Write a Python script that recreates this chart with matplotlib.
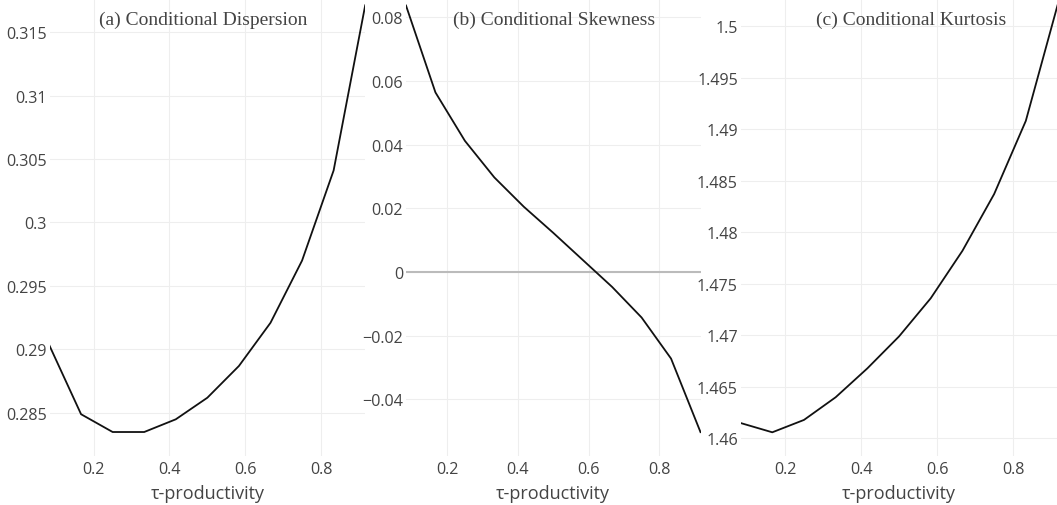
import matplotlib
matplotlib.use("Agg")
import matplotlib.pyplot as plt
import numpy as np

# tau grid: 1/12 ... 11/12
tau = [1/12, 2/12, 3/12, 4/12, 5/12, 6/12, 7/12, 8/12, 9/12, 10/12, 11/12]

dispersion = [0.2903, 0.2849, 0.2835, 0.2835, 0.2845, 0.2862, 0.2887, 0.2921, 0.2970, 0.3041, 0.3171]
skewness = [0.0837, 0.0564, 0.0412, 0.0297, 0.0205, 0.0123, 0.0038, -0.0047, -0.0143, -0.0272, -0.0503]
kurtosis = [1.4615, 1.4606, 1.4618, 1.4640, 1.4668, 1.4699, 1.4736, 1.4782, 1.4837, 1.4908, 1.5020]

titles = ["(a) Conditional Dispersion", "(b) Conditional Skewness", "(c) Conditional Kurtosis"]
x_ticks = [0.2, 0.4, 0.6, 0.8]
x_tick_labels = ["0.2", "0.4", "0.6", "0.8"]

disp_ticks = [0.285, 0.29, 0.295, 0.3, 0.305, 0.31, 0.315]
disp_labels = ["0.285", "0.29", "0.295", "0.3", "0.305", "0.31", "0.315"]
skew_ticks = [-0.04, -0.02, 0, 0.02, 0.04, 0.06, 0.08]
skew_labels = ["\u22120.04", "\u22120.02", "0", "0.02", "0.04", "0.06", "0.08"]
kurt_ticks = [1.46, 1.465, 1.47, 1.475, 1.48, 1.485, 1.49, 1.495, 1.5]
kurt_labels = ["1.46", "1.465", "1.47", "1.475", "1.48", "1.485", "1.49", "1.495", "1.5"]

plt.rcParams['font.family'] = ['Open Sans', 'DejaVu Sans']

fig = plt.figure(figsize=(10.57, 5.06), dpi=100)

W, H = 1057, 506
bottom_px = 456.5

def make_axes(left_px, right_px):
    return fig.add_axes([left_px / W, 1 - bottom_px / H, (right_px - left_px) / W, bottom_px / H])

panels = [
    (make_axes(49.5, 365.2), dispersion, disp_ticks, disp_labels, (0.28165, 0.31760)),
    (make_axes(406, 700.5), skewness, skew_ticks, skew_labels, (-0.05764, 0.08575)),
    (make_axes(740.6, 1057.5), kurtosis, kurt_ticks, kurt_labels, (1.45835, 1.50262)),
]

for ax, vals, yt, yl, lim in panels:
    ax.plot(tau, vals, color='#111111', lw=1.3, zorder=3)
    ax.set_xlim(tau[0], tau[-1])
    ax.set_ylim(*lim)
    ax.set_xticks(x_ticks)
    ax.set_xticklabels(x_tick_labels)
    ax.set_yticks(yt)
    ax.set_yticklabels(yl)
    ax.grid(True, color='#eeeeee', lw=0.8, zorder=0)
    for s in ax.spines.values():
        s.set_visible(False)
    ax.tick_params(length=0, labelsize=11.6, colors='#444444', pad=4)
    ax.tick_params(axis='y', pad=2)
    ax.set_xlabel("\u03c4-productivity", fontsize=13, color='#444444', labelpad=5)
    ax.set_facecolor('white')

# zero line in skewness panel
panels[1][0].axhline(0, color='#bbbbbb', lw=1.5, zorder=2)

title_x = [203.5, 554, 911.5]
for t, xp in zip(titles, title_x):
    fig.text(xp / W, 1 - 20 / H, t, ha='center', va='center',
             fontsize=14, family='Liberation Serif', color='#444444')

fig.savefig("out.png", dpi=100, facecolor='white')
